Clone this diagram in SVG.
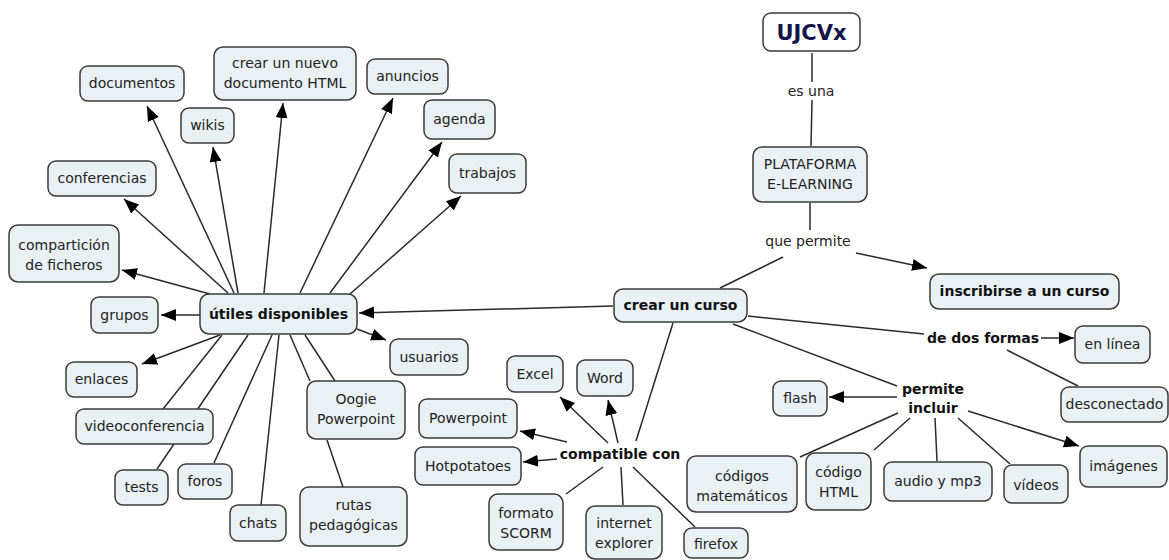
<svg xmlns="http://www.w3.org/2000/svg" width="1169" height="560" viewBox="0 0 1169 560">
<defs>
<marker id="ah" markerUnits="userSpaceOnUse" markerWidth="16" markerHeight="13" refX="15" refY="6" orient="auto">
<path d="M0,0 L15,6 L0,12 z" fill="#000"/>
</marker>
<style>
.b{fill:#e9f1f5;stroke:#3a3a3a;stroke-width:1.5}
.t{font-family:"DejaVu Sans",Verdana,sans-serif;font-size:14px;fill:#222;text-anchor:middle}
.bt{font-family:"DejaVu Sans",Verdana,sans-serif;font-size:14px;font-weight:bold;fill:#111;text-anchor:middle}
.c line{stroke:#2a2a2a;stroke-width:1.5}
.a{marker-end:url(#ah)}
</style>
</defs>
<rect width="1169" height="560" fill="#fff"/>
<g id="connectors" class="c">
<line class="a" x1="234" y1="293" x2="147" y2="106"/>
<line class="a" x1="238" y1="293" x2="213" y2="147"/>
<line class="a" x1="264" y1="293" x2="283" y2="103"/>
<line class="a" x1="300" y1="293" x2="393" y2="98"/>
<line class="a" x1="330" y1="293" x2="442" y2="142"/>
<line class="a" x1="350" y1="294" x2="461" y2="196"/>
<line class="a" x1="228" y1="293" x2="124" y2="199"/>
<line class="a" x1="210" y1="294" x2="122" y2="270"/>
<line class="a" x1="200" y1="315" x2="161" y2="315"/>
<line class="a" x1="220" y1="335" x2="142" y2="364"/>
<line x1="222" y1="335" x2="163" y2="409"/>
<line x1="248" y1="335" x2="157" y2="469"/>
<line x1="272" y1="335" x2="214" y2="463"/>
<line x1="279" y1="335" x2="261" y2="505"/>
<line x1="290" y1="335" x2="310" y2="381"/>
<line x1="305" y1="335" x2="335" y2="381"/>
<line x1="327" y1="440" x2="343" y2="487"/>
<line class="a" x1="357" y1="329" x2="386" y2="340"/>
<line class="a" x1="613" y1="306" x2="359" y2="313"/>
<line x1="812" y1="53" x2="812" y2="82"/>
<line x1="812" y1="100" x2="811" y2="146"/>
<line x1="810" y1="203" x2="810" y2="230"/>
<line x1="783" y1="257" x2="720" y2="288"/>
<line class="a" x1="856" y1="253" x2="927" y2="268"/>
<line x1="748" y1="316" x2="924" y2="334"/>
<line x1="733" y1="324" x2="897" y2="386"/>
<line x1="673" y1="323" x2="636" y2="441"/>
<line class="a" x1="1041" y1="338" x2="1074" y2="338"/>
<line x1="1007" y1="350" x2="1078" y2="386"/>
<line class="a" x1="897" y1="397" x2="829" y2="397"/>
<line x1="898" y1="413" x2="800" y2="457"/>
<line x1="910" y1="418" x2="874" y2="450"/>
<line x1="935" y1="418" x2="937" y2="461"/>
<line x1="958" y1="418" x2="1010" y2="464"/>
<line class="a" x1="968" y1="411" x2="1079" y2="446"/>
<line class="a" x1="608" y1="443" x2="560" y2="397"/>
<line class="a" x1="618" y1="443" x2="608" y2="400"/>
<line class="a" x1="567" y1="442" x2="520" y2="431"/>
<line class="a" x1="557" y1="459" x2="523" y2="462"/>
<line x1="603" y1="467" x2="566" y2="494"/>
<line x1="621" y1="467" x2="623" y2="505"/>
<line x1="633" y1="467" x2="695" y2="527"/>
</g>
<g id="n-documentos"><rect class="b" x="80" y="66" width="104" height="35" rx="8"/><text class="t" x="132" y="88">documentos</text></g>
<g id="n-wikis"><rect class="b" x="181" y="108" width="53" height="35" rx="8"/><text class="t" x="207.5" y="130">wikis</text></g>
<g id="n-nuevo"><rect class="b" x="214" y="47" width="142" height="53" rx="9"/><text class="t" x="285" y="68">crear un nuevo</text><text class="t" x="285" y="88">documento HTML</text></g>
<g id="n-anuncios"><rect class="b" x="367" y="59" width="81" height="35" rx="8"/><text class="t" x="407.5" y="81">anuncios</text></g>
<g id="n-agenda"><rect class="b" x="424" y="100" width="71" height="39" rx="8"/><text class="t" x="459.5" y="124">agenda</text></g>
<g id="n-trabajos"><rect class="b" x="449" y="154" width="77" height="39" rx="8"/><text class="t" x="487.5" y="178">trabajos</text></g>
<g id="n-conferencias"><rect class="b" x="48" y="161" width="108" height="35" rx="8"/><text class="t" x="102" y="183">conferencias</text></g>
<g id="n-comparticion"><rect class="b" x="9" y="225" width="110" height="57" rx="9"/><text class="t" x="64" y="250">compartición</text><text class="t" x="64" y="270">de ficheros</text></g>
<g id="n-grupos"><rect class="b" x="91" y="297" width="67" height="36" rx="8"/><text class="t" x="124.5" y="320">grupos</text></g>
<g id="n-utiles"><rect class="b" x="200" y="294" width="157" height="40" rx="9"/><text class="bt" x="278.5" y="319">útiles disponibles</text></g>
<g id="n-usuarios"><rect class="b" x="390" y="339" width="78" height="36" rx="8"/><text class="t" x="429" y="362">usuarios</text></g>
<g id="n-enlaces"><rect class="b" x="66" y="362" width="71" height="35" rx="8"/><text class="t" x="101.5" y="384">enlaces</text></g>
<g id="n-videoconferencia"><rect class="b" x="76" y="409" width="137" height="35" rx="8"/><text class="t" x="144.5" y="431">videoconferencia</text></g>
<g id="n-tests"><rect class="b" x="115" y="470" width="53" height="35" rx="8"/><text class="t" x="141.5" y="492">tests</text></g>
<g id="n-foros"><rect class="b" x="178" y="464" width="54" height="35" rx="8"/><text class="t" x="205" y="486">foros</text></g>
<g id="n-chats"><rect class="b" x="230" y="505" width="56" height="36" rx="8"/><text class="t" x="258" y="528">chats</text></g>
<g id="n-oogie"><rect class="b" x="307" y="381" width="98" height="58" rx="9"/><text class="t" x="356" y="404">Oogie</text><text class="t" x="356" y="424">Powerpoint</text></g>
<g id="n-rutas"><rect class="b" x="300" y="487" width="107" height="59" rx="9"/><text class="t" x="353.5" y="510">rutas</text><text class="t" x="353.5" y="530">pedagógicas</text></g>
<g id="n-curso"><rect class="b" x="614" y="289" width="133" height="33" rx="9"/><text class="bt" x="680.5" y="310">crear un curso</text></g>
<g id="n-ujcvx"><rect class="b" x="763" y="13" width="97" height="38" rx="8" style="fill:#fff"/><text x="811.5" y="40" style="font-family:'DejaVu Sans',Verdana,sans-serif;font-size:21px;font-weight:bold;fill:#141448;text-anchor:middle">UJCVx</text></g>
<g id="l-esuna"><text class="t" x="811" y="96">es una</text></g>
<g id="n-plataforma"><rect class="b" x="753" y="147" width="114" height="55" rx="9"/><text class="t" x="810" y="169">PLATAFORMA</text><text class="t" x="810" y="189">E-LEARNING</text></g>
<g id="l-quepermite"><text class="t" x="808" y="246">que permite</text></g>
<g id="n-inscribirse"><rect class="b" x="930" y="274" width="189" height="35" rx="9"/><text class="bt" x="1024.5" y="296">inscribirse a un curso</text></g>
<g id="l-dosformas"><text class="bt" x="983" y="343">de dos formas</text></g>
<g id="n-enlinea"><rect class="b" x="1075" y="326" width="75" height="37" rx="8"/><text class="t" x="1112.5" y="349">en línea</text></g>
<g id="n-desconectado"><rect class="b" x="1061" y="387" width="107" height="35" rx="8"/><text class="t" x="1114.5" y="409">desconectado</text></g>
<g id="l-permite"><text class="bt" x="933" y="394">permite</text><text class="bt" x="933" y="413">incluir</text></g>
<g id="n-flash"><rect class="b" x="773" y="381" width="54" height="35" rx="8"/><text class="t" x="800" y="403">flash</text></g>
<g id="n-codmat"><rect class="b" x="687" y="456" width="110" height="56" rx="9"/><text class="t" x="742" y="481">códigos</text><text class="t" x="742" y="501">matemáticos</text></g>
<g id="n-codhtml"><rect class="b" x="806" y="453" width="65" height="57" rx="9"/><text class="t" x="838.5" y="477">código</text><text class="t" x="838.5" y="497">HTML</text></g>
<g id="n-audio"><rect class="b" x="884" y="462" width="108" height="39" rx="8"/><text class="t" x="938" y="486">audio y mp3</text></g>
<g id="n-videos"><rect class="b" x="1004" y="465" width="64" height="38" rx="8"/><text class="t" x="1036" y="490">vídeos</text></g>
<g id="n-imagenes"><rect class="b" x="1080" y="446" width="87" height="41" rx="8"/><text class="t" x="1123.5" y="471">imágenes</text></g>
<g id="l-compatible"><text class="bt" x="620" y="459">compatible con</text></g>
<g id="n-excel"><rect class="b" x="507" y="356" width="56" height="36" rx="8"/><text class="t" x="535" y="379">Excel</text></g>
<g id="n-word"><rect class="b" x="577" y="360" width="56" height="36" rx="8"/><text class="t" x="605" y="383">Word</text></g>
<g id="n-powerpoint"><rect class="b" x="419" y="399" width="98" height="39" rx="8"/><text class="t" x="468" y="423">Powerpoint</text></g>
<g id="n-hotpotatoes"><rect class="b" x="415" y="447" width="106" height="38" rx="8"/><text class="t" x="468" y="471">Hotpotatoes</text></g>
<g id="n-scorm"><rect class="b" x="489" y="494" width="74" height="56" rx="9"/><text class="t" x="526" y="518">formato</text><text class="t" x="526" y="538">SCORM</text></g>
<g id="n-ie"><rect class="b" x="586" y="506" width="76" height="53" rx="9"/><text class="t" x="624" y="528">internet</text><text class="t" x="624" y="548">explorer</text></g>
<g id="n-firefox"><rect class="b" x="684" y="528" width="64" height="30" rx="8"/><text class="t" x="716" y="549">firefox</text></g>
</svg>
